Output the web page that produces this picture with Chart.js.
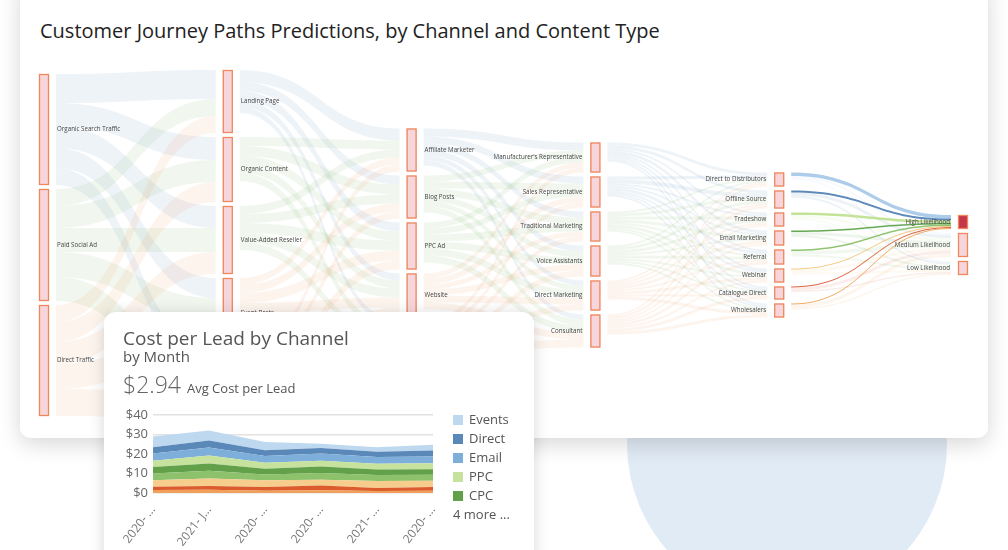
<!DOCTYPE html>
<html>
<head>
<meta charset="utf-8">
<script src="https://cdn.jsdelivr.net/npm/chart.js@4.4.1/dist/chart.umd.min.js"></script>
<style>
    html, body { margin: 0; padding: 0; }
    body {
        width: 1008px; height: 550px; overflow: hidden; position: relative;
        background: #fff; font-family: 'Open Sans', sans-serif;
    }
    #circle {
        position: absolute; left: 627px; top: 284px; width: 320px; height: 320px;
        border-radius: 50%; background: #e1ebf5;
    }
    #mainCard {
        position: absolute; left: 20px; top: -20px; width: 968px; height: 458px;
        background: #fff; border-radius: 10px;
        box-shadow: 0 6px 22px rgba(0, 0, 0, 0.16);
    }
    #mainTitle {
        position: absolute; left: 20px; top: 41px; font-size: 20px; line-height: 20px;
        color: #222; white-space: nowrap;
    }
    #sankey { position: absolute; left: 0; top: 20px; }
    #cplCard {
        position: absolute; left: 104px; top: 312px; width: 430px; height: 260px;
        background: #fff; border-radius: 12px;
        box-shadow: 0 2px 16px rgba(0, 0, 0, 0.16);
    }
    .txt { position: absolute; left: 19px; white-space: nowrap; color: #555; }
    #cplTitle { top: 17px; font-size: 19px; line-height: 19px; }
    #cplSub { top: 37px; font-size: 15px; line-height: 15px; }
    #cplKpi { top: 61px; font-size: 23px; line-height: 23px; font-weight: 300; color: #666; }
    #cplKpi span { font-size: 13px; font-weight: 400; color: #555; }
    #cplChart { position: absolute; left: 6px; top: 88px; }
    #cplLegend { position: absolute; left: 349px; top: 98px; font-size: 13px; color: #555; }
    .lg { height: 19px; line-height: 19px; white-space: nowrap; }
    .lg i { display: inline-block; width: 10px; height: 10px; margin-right: 6px; vertical-align: -1px; }
</style>
</head>
<body>
<div id="circle"></div>
<div id="mainCard">
    <div id="mainTitle">Customer Journey Paths Predictions, by Channel and Content Type</div>
    <canvas id="sankey" width="968" height="438"></canvas>
</div>
<div id="cplCard">
    <div class="txt" id="cplTitle">Cost per Lead by Channel</div>
    <div class="txt" id="cplSub">by Month</div>
    <div class="txt" id="cplKpi">$2.94 <span>Avg Cost per Lead</span></div>
    <canvas id="cplChart" width="330" height="150"></canvas>
    <div id="cplLegend"></div>
</div>
<script>
/* ── Sankey: node names per column ── */
var col0Nodes = ['Organic Search Traffic', 'Paid Social Ad', 'Direct Traffic'];
var col1Nodes = ['Landing Page', 'Organic Content', 'Value-Added Reseller', 'Event Posts', 'Social Media'];
var col2Nodes = ['Affiliate Marketer', 'Blog Posts', 'PPC Ad', 'Website', 'Search Ad'];
var col3Nodes = ["Manufacturer's Representative", 'Sales Representative', 'Traditional Marketing',
    'Voice Assistants', 'Direct Marketing', 'Consultant'];
var col4Nodes = ['Direct to Distributors', 'Offline Source', 'Tradeshow', 'Email Marketing',
    'Referral', 'Webinar', 'Catalogue Direct', 'Wholesalers'];
var col5Nodes = ['High Likelihood', 'Medium Likelihood', 'Low Likelihood'];

/* ── Sankey: flows between neighbouring columns (rows = source, cols = target) ── */
var flows01 = [
    [29, 23, 22, 20, 17],
    [17, 22, 24, 25, 24],
    [17, 20, 22, 25, 27]
];
var flows12 = [
    [12, 9, 9, 7, 6],
    [9, 10, 9, 8, 8],
    [8, 9, 10, 9, 8],
    [7, 8, 10, 10, 9],
    [7, 7, 9, 9, 10]
];
var flows23 = [
    [8, 7, 6, 6, 5, 5],
    [6, 7, 7, 6, 5, 6],
    [6, 6, 7, 7, 7, 7],
    [5, 6, 5, 6, 7, 7],
    [5, 5, 5, 6, 6, 8]
];
var flows34 = [
    [3, 3, 2, 3, 2, 2, 2, 2],
    [3, 4, 2, 2, 3, 2, 2, 2],
    [2, 3, 3, 3, 2, 3, 2, 2],
    [2, 3, 3, 2, 3, 2, 2, 2],
    [2, 2, 2, 3, 2, 3, 2, 3],
    [2, 3, 2, 2, 3, 2, 3, 3]
];
var flows45 = [
    [3.5, 2, 1.5],
    [2, 3, 2],
    [2.5, 3, 1.5],
    [1.5, 3, 2],
    [1.5, 3.5, 2],
    [1, 3, 2],
    [1, 3, 1.5],
    [1, 3.5, 1.5]
];

/* ── Cost per lead: months and series (bottom of stack first) ── */
var cplMonths = ['2020- ...', '2021- J...', '2020- ...', '2020- ...', '2021- ...', '2020- ...'];
var cplNames = ['Display', 'Social', 'Referral', 'Organic', 'CPC', 'PPC', 'Email', 'Direct', 'Events'];
var cplDisplay  = [1.5, 1.7, 1.2, 1.4, 1.0, 1.2];
var cplSocial   = [1.7, 1.9, 1.9, 2.5, 1.6, 1.9];
var cplReferral = [3.3, 3.9, 3.4, 2.9, 3.5, 3.2];
var cplOrganic  = [3.5, 3.9, 3.0, 3.4, 3.1, 3.0];
var cplCPC      = [3.3, 3.7, 2.9, 3.4, 2.9, 2.9];
var cplPPC      = [3.2, 4.1, 3.1, 2.9, 2.9, 3.1];
var cplEmail    = [3.7, 4.1, 3.5, 3.7, 3.4, 3.4];
var cplDirect   = [3.3, 3.6, 2.9, 2.9, 2.7, 3.1];
var cplEvents   = [5.5, 5.1, 4.3, 2.2, 2.4, 2.9];
var cplTicks = [0, 10, 20, 30, 40];

(function () {
    'use strict';

    /* ── Shared colours ── */
    var c = {
        blue: '#5b8bbd', green: '#78b158', orange: '#ee9556',
        nodeFill: '#f6d6da', nodeLine: '#f0875c', hot: '#c4364a', label: '#444'
    };
    var columns = [col0Nodes, col1Nodes, col2Nodes, col3Nodes, col4Nodes, col5Nodes];
    var flows = [flows01, flows12, flows23, flows34, flows45];
    var linkColours = [
        [c.blue, c.green, c.orange],
        [c.blue, c.green, c.green, c.orange, c.orange],
        [c.blue, c.green, c.green, c.orange, c.orange],
        [c.blue, c.blue, c.green, c.green, c.orange, c.orange],
        ['#a4c6e8', '#4c7db2', '#bde08c', '#57a043', '#83bd5f', '#f5c47a', '#d8532e', '#f0a257']
    ];
    var gap = 4;
    var nodeW = 10;
    var linkGap = 7;

    function hexA(hex, a) {
        var n = parseInt(hex.slice(1), 16);
        return 'rgba(' + (n >> 16) + ',' + ((n >> 8) & 255) + ',' + (n & 255) + ',' + a + ')';
    }

    /* node sizes = max(inflow, outflow) */
    function nodeSizes(ci) {
        return columns[ci].map(function (name, i) {
            var out = 0, inn = 0;
            if (flows[ci]) flows[ci][i].forEach(function (v) { out += v; });
            if (flows[ci - 1]) flows[ci - 1].forEach(function (row) { inn += row[i]; });
            return Math.max(out, inn);
        });
    }

    var sankeyPlugin = {
        id: 'sankeyDraw',
        afterDraw: function (chart) {
            var ctx = chart.ctx, xs = chart.scales.x, ys = chart.scales.y;
            var mid = (ys.min + ys.max) / 2;
            var layout = columns.map(function (names, ci) {
                var sizes = nodeSizes(ci);
                var total = sizes.reduce(function (a, b) { return a + b; }, 0) + gap * (sizes.length - 1);
                var top = mid - total / 2;
                return sizes.map(function (s) {
                    var n = { top: top, size: s, outOff: 0, inOff: 0 };
                    top += s + gap;
                    return n;
                });
            });

            /* links */
            var hot = [];
            flows.forEach(function (m, ci) {
                var src = layout[ci], dst = layout[ci + 1];
                var x0 = xs.getPixelForValue(ci) + nodeW + linkGap;
                var x1 = xs.getPixelForValue(ci + 1) - linkGap;
                var xm = (x0 + x1) / 2;
                var bands = [];
                m.forEach(function (row, i) {
                    row.forEach(function (v, j) {
                        bands.push({ i: i, j: j, v: v, s0: src[i].top + src[i].outOff });
                        src[i].outOff += v;
                    });
                });
                for (var j = 0; j < dst.length; j++) {
                    bands.forEach(function (b) {
                        if (b.j === j) { b.t0 = dst[j].top + dst[j].inOff; dst[j].inOff += b.v; }
                    });
                }
                bands.forEach(function (b) {
                    var sy0 = ys.getPixelForValue(b.s0), sy1 = ys.getPixelForValue(b.s0 + b.v);
                    var ty0 = ys.getPixelForValue(b.t0), ty1 = ys.getPixelForValue(b.t0 + b.v);
                    var col = linkColours[ci][b.i];
                    var isHot = ci === flows.length - 1 && b.j === 0;
                    var draw = function () {
                        ctx.beginPath();
                        ctx.moveTo(x0, sy0);
                        ctx.bezierCurveTo(xm, sy0, xm, ty0, x1, ty0);
                        ctx.lineTo(x1, ty1);
                        ctx.bezierCurveTo(xm, ty1, xm, sy1, x0, sy1);
                        ctx.closePath();
                        ctx.fillStyle = hexA(col, isHot ? 0.9 : 0.1);
                        ctx.fill();
                    };
                    if (isHot) hot.push(draw); else draw();
                });
            });
            hot.forEach(function (f) { f(); });

            /* nodes and labels */
            ctx.font = '6.2px "Open Sans"';
            ctx.textBaseline = 'middle';
            layout.forEach(function (nodes, ci) {
                var x = xs.getPixelForValue(ci);
                nodes.forEach(function (n, i) {
                    var y0 = ys.getPixelForValue(n.top), y1 = ys.getPixelForValue(n.top + n.size);
                    ctx.fillStyle = (ci === 5 && i === 0) ? c.hot : c.nodeFill;
                    ctx.fillRect(x, y0, nodeW, y1 - y0);
                    ctx.strokeStyle = c.nodeLine;
                    ctx.lineWidth = 1.3;
                    ctx.strokeRect(x + 0.5, y0 + 0.5, nodeW - 1, y1 - y0 - 1);
                    ctx.fillStyle = c.label;
                    if (ci < 3) {
                        ctx.textAlign = 'left';
                        ctx.fillText(columns[ci][i], x + nodeW + 8, (y0 + y1) / 2);
                    } else {
                        ctx.textAlign = 'right';
                        ctx.fillText(columns[ci][i], x - 8, (y0 + y1) / 2);
                    }
                });
            });
        }
    };

    new Chart(document.getElementById('sankey'), {
        type: 'scatter',
        data: { datasets: [] },
        options: {
            responsive: false,
            animation: false,
            layout: { padding: { left: 19, right: 30, top: 70, bottom: 18 } },
            plugins: { legend: { display: false }, tooltip: { enabled: false } },
            scales: {
                x: { type: 'linear', min: 0, max: 5, display: false },
                y: { type: 'linear', min: 0, max: 350, reverse: true, display: false }
            }
        },
        plugins: [sankeyPlugin]
    });

    /* ── Cost per Lead — stacked area ── */
    var seriesData = [cplDisplay, cplSocial, cplReferral, cplOrganic, cplCPC, cplPPC, cplEmail, cplDirect, cplEvents];
    var seriesColours = ['#f1a05c', '#db5b2c', '#f6cd8c', '#8dc16c', '#63a04a', '#c6e29d', '#7eafda', '#5a88b8', '#bdd8ef'];

    var datasets = seriesData.map(function (d, i) {
        return {
            label: cplNames[i],
            data: d,
            backgroundColor: seriesColours[i],
            borderWidth: 0,
            pointRadius: 0,
            tension: 0,
            fill: i === 0 ? 'origin' : '-1'
        };
    });

    new Chart(document.getElementById('cplChart'), {
        type: 'line',
        data: { labels: cplMonths, datasets: datasets },
        options: {
            responsive: false,
            animation: false,
            layout: { padding: { top: 15, right: 7, left: 0, bottom: 0 } },
            plugins: { legend: { display: false }, tooltip: { enabled: false } },
            scales: {
                x: {
                    grid: { display: false },
                    border: { display: false },
                    ticks: {
                        color: '#777', autoSkip: false, minRotation: 52, maxRotation: 52, padding: 2,
                        font: { family: 'Open Sans', size: 12 }
                    },
                    afterFit: function (s) { s.height = 57; s.paddingRight = 0; s.paddingLeft = 0; }
                },
                y: {
                    stacked: true,
                    min: cplTicks[0],
                    max: cplTicks[cplTicks.length - 1],
                    afterBuildTicks: function (s) { s.ticks = cplTicks.map(function (v) { return { value: v }; }); },
                    ticks: {
                        color: '#666', padding: 5,
                        font: { family: 'Open Sans', size: 13 },
                        callback: function (v) { return '$' + v; }
                    },
                    grid: { color: '#e2e2e2', lineWidth: 1.5, drawTicks: false },
                    border: { display: false },
                    afterFit: function (s) { s.width = 43; }
                }
            }
        }
    });

    /* legend: top of the stack first, five entries then a count */
    var legend = document.getElementById('cplLegend');
    var shown = 5;
    for (var k = seriesData.length - 1; k >= seriesData.length - shown; k--) {
        var row = document.createElement('div');
        row.className = 'lg';
        row.innerHTML = '<i style="background:' + seriesColours[k] + '"></i>' + cplNames[k];
        legend.appendChild(row);
    }
    var more = document.createElement('div');
    more.className = 'lg';
    more.textContent = (seriesData.length - shown) + ' more ...';
    legend.appendChild(more);
})();
</script>
</body>
</html>
